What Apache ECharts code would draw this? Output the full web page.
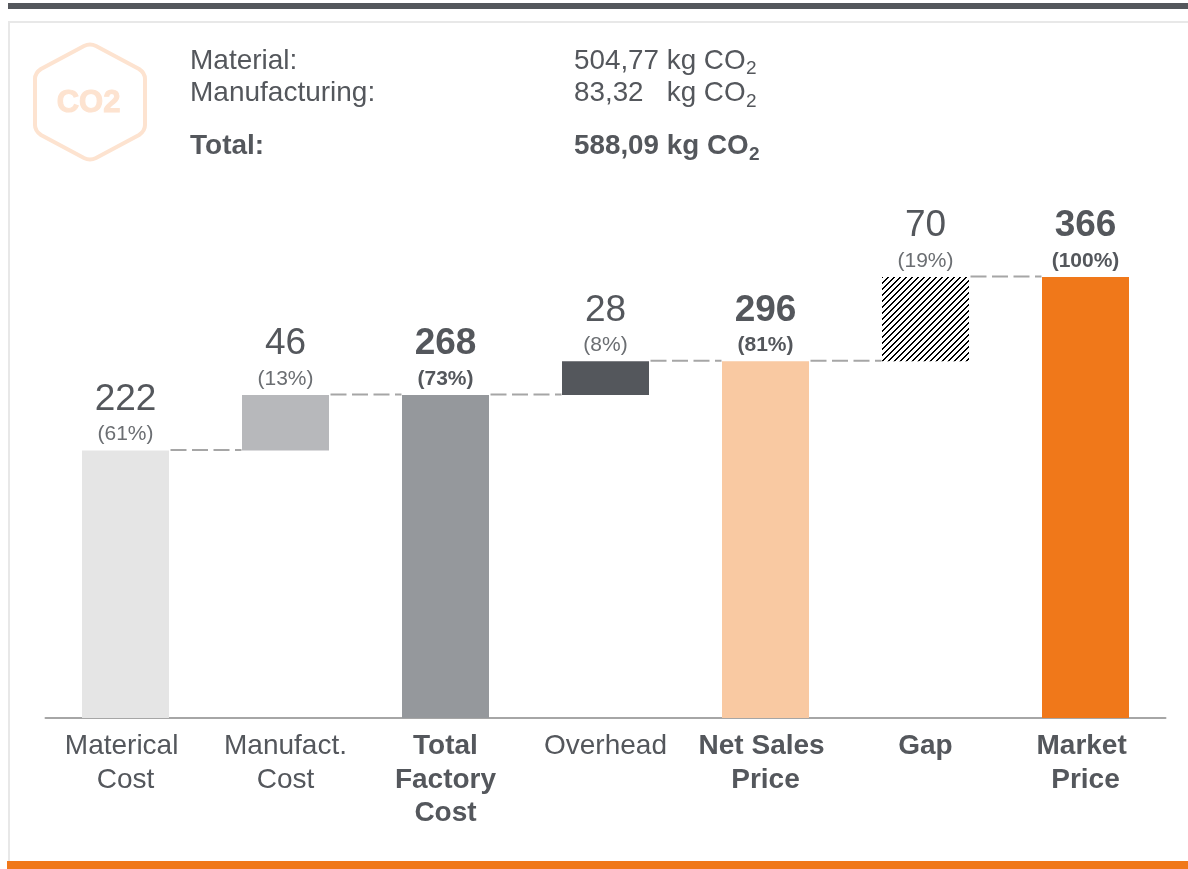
<!doctype html>
<html lang="en">
<head>
    <meta charset="UTF-8">
    <script src="https://cdn.jsdelivr.net/npm/echarts@6/dist/echarts.min.js"></script>
    <title>Cost waterfall</title>
    <style>
        html, body {margin: 0; padding: 0; background: #fff;}
    </style>
</head>
<body>
<div id="main" style="width: 1188px;height:869px;"></div>
<script>
    // chart data
    var categories = ['Materical \nCost', 'Manufact.\nCost', 'Total\nFactory\nCost', 'Overhead', 'Net Sales \nPrice', 'Gap', 'Market \nPrice'];
    var baseValues = [0, 222, 0, 268, 0, 296, 0];
    var barValues = [222, 46, 268, 28, 296, 70, 366];
    var percents = ['(61%)', '(13%)', '(73%)', '(8%)', '(81%)', '(19%)', '(100%)'];
    var boldValues = [false, false, true, false, true, false, true];
    var boldCategories = [false, false, true, false, true, true, true];
    var connectorLevels = [222, 268, 268, 296, 296, 366];

    // header text
    var co2Labels = ['Material:', 'Manufacturing:', 'Total:'];
    var co2Values = ['504,77 kg CO', '83,32   kg CO', '588,09 kg CO'];

    var FONT = '"Liberation Sans", Arial, sans-serif';
    var TEXT = '#54575c';

    // black/white diagonal hatch for the gap bar
    function hatch() {
        var c = document.createElement('canvas');
        c.width = 6;
        c.height = 6;
        var ctx = c.getContext('2d');
        ctx.fillStyle = '#fff';
        ctx.fillRect(0, 0, 6, 6);
        ctx.fillStyle = '#000';
        for (var x = 0; x < 6; x++) {
            for (var y = 0; y < 6; y++) {
                if ((x + y) % 6 < 2) ctx.fillRect(x, y, 1, 1);
            }
        }
        return {image: c, repeat: 'repeat'};
    }

    var barColors = ['#e5e5e5', '#b7b8bb', '#95989c', '#54575c', '#f9c9a2', hatch(), '#f0781a'];

    // rounded hexagon of the CO2 badge
    echarts.graphic.registerShape('co2Hex', echarts.graphic.extendShape({
        buildPath: function (ctx) {
            ctx.moveTo(84, 46);
            ctx.quadraticCurveTo(90, 43, 96, 46);
            ctx.lineTo(139, 69);
            ctx.quadraticCurveTo(145, 73, 145, 79);
            ctx.lineTo(145, 125);
            ctx.quadraticCurveTo(145, 131, 139, 135);
            ctx.lineTo(96, 158);
            ctx.quadraticCurveTo(90, 161, 84, 158);
            ctx.lineTo(41, 135);
            ctx.quadraticCurveTo(35, 131, 35, 125);
            ctx.lineTo(35, 79);
            ctx.quadraticCurveTo(35, 73, 41, 69);
            ctx.closePath();
        }
    }));

    var rowY = [61.5, 93.5, 146.5];
    var subY = [69, 102, 155];
    var subX = [746, 746, 749];
    var graphics = [
        {type: 'rect', shape: {x: 8, y: 3, width: 1180, height: 6}, style: {fill: '#54575c'}},
        {type: 'rect', shape: {x: 8, y: 21, width: 1180, height: 2}, style: {fill: '#e8e8e8'}},
        {type: 'rect', shape: {x: 8, y: 21, width: 2, height: 840}, style: {fill: '#e8e8e8'}},
        {type: 'rect', shape: {x: 7, y: 861, width: 1181, height: 8}, style: {fill: '#f0781a'}},
        {type: 'co2Hex', style: {fill: 'none', stroke: '#fde3d0', lineWidth: 4}},
        {
            type: 'text', x: 88.5, y: 103,
            style: {
                text: 'CO2', font: 'bold 31px ' + FONT, fill: '#fde3d0',
                stroke: '#fde3d0', lineWidth: 1, align: 'center', verticalAlign: 'middle'
            }
        }
    ];
    co2Labels.forEach(function (t, i) {
        var weight = i === 2 ? 'bold ' : '';
        graphics.push({
            type: 'text', x: 190, y: rowY[i],
            style: {text: t, font: weight + '28px ' + FONT, fill: TEXT, verticalAlign: 'middle'}
        });
        graphics.push({
            type: 'text', x: 574, y: rowY[i],
            style: {text: co2Values[i], font: weight + '27.8px ' + FONT, fill: TEXT, verticalAlign: 'middle'}
        });
        graphics.push({
            type: 'text', x: subX[i], y: subY[i],
            style: {text: '2', font: weight + '19px ' + FONT, fill: TEXT, verticalAlign: 'middle'}
        });
    });

    var myChart = echarts.init(document.getElementById('main'));
    var option = {
        animation: false,
        textStyle: {fontFamily: FONT},
        grid: {left: 45.5, right: 22.5, top: 277, bottom: 151},
        xAxis: {
            type: 'category',
            data: categories,
            axisTick: {show: false},
            axisLine: {lineStyle: {color: '#a6a6a6', width: 2}},
            axisLabel: {
                interval: 0,
                margin: 12,
                formatter: function (value, idx) {
                    var key = boldCategories[idx] ? 'b' : 'r';
                    return value.split('\n').map(function (s) {
                        return '{' + key + '|' + s + '}';
                    }).join('\n');
                },
                rich: {
                    r: {fontFamily: FONT, fontSize: 28, lineHeight: 33.5, color: TEXT},
                    b: {fontFamily: FONT, fontSize: 28, lineHeight: 33.5, color: TEXT, fontWeight: 'bold'}
                }
            }
        },
        yAxis: {type: 'value', show: false, min: 0, max: 366},
        graphic: graphics,
        series: [
            {
                name: 'base',
                type: 'bar',
                stack: 'cost',
                barWidth: 87,
                silent: true,
                itemStyle: {color: 'transparent'},
                data: baseValues
            },
            {
                name: 'cost',
                type: 'bar',
                stack: 'cost',
                barWidth: 87,
                data: barValues.map(function (v, i) {
                    return {value: v, itemStyle: {color: barColors[i]}};
                }),
                label: {
                    show: true,
                    position: 'top',
                    distance: 3,
                    formatter: function (p) {
                        var i = p.dataIndex;
                        var s = boldValues[i] ? 'B' : '';
                        return '{n' + s + '|' + barValues[i] + '}\n{p' + s + '|' + percents[i] + '}';
                    },
                    rich: {
                        n: {fontFamily: FONT, fontSize: 37, lineHeight: 44, color: TEXT},
                        nB: {fontFamily: FONT, fontSize: 37, lineHeight: 44, color: TEXT, fontWeight: 'bold'},
                        p: {fontFamily: FONT, fontSize: 21, lineHeight: 26, color: '#6b6e72'},
                        pB: {fontFamily: FONT, fontSize: 21, lineHeight: 26, color: TEXT, fontWeight: 'bold'}
                    }
                }
            },
            {
                name: 'connector',
                type: 'custom',
                silent: true,
                data: connectorLevels.map(function (v, i) {
                    return [i, v];
                }),
                renderItem: function (params, api) {
                    var a = api.coord([api.value(0), api.value(1)]);
                    var b = api.coord([api.value(0) + 1, api.value(1)]);
                    return {
                        type: 'line',
                        shape: {x1: a[0] + 45, y1: a[1] - 0.5, x2: b[0] - 44, y2: a[1] - 0.5},
                        style: {stroke: '#a6a6a6', lineWidth: 2, lineDash: [16, 5.5]}
                    };
                }
            }
        ]
    };
    myChart.setOption(option);
</script>
</body>
</html>
